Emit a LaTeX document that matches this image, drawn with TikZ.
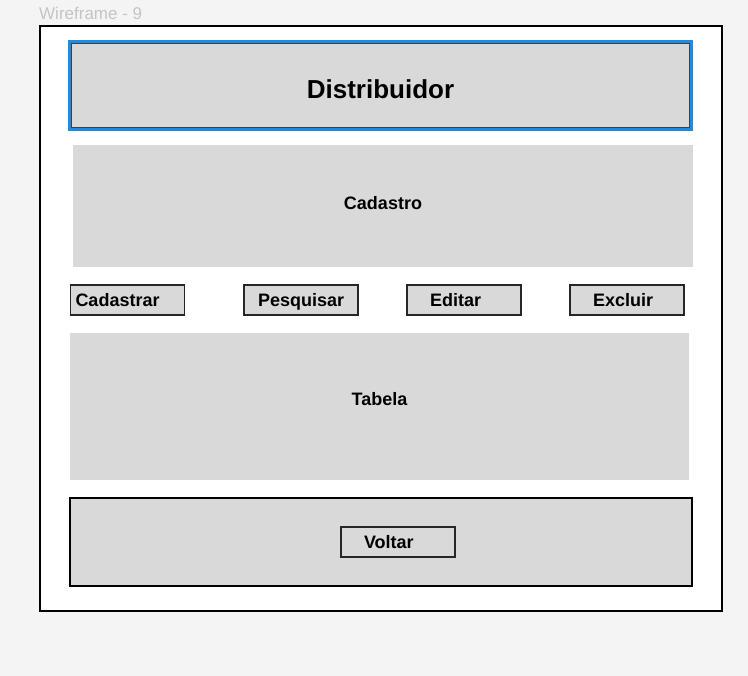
\documentclass[tikz,border=0pt]{standalone}
\usepackage{fontspec}
\setmainfont{Liberation Sans}
\definecolor{pagebg}{HTML}{F4F4F4}
\definecolor{boxgray}{HTML}{D9D9D9}
\definecolor{selblue}{HTML}{1A8CE8}
\definecolor{titlegray}{HTML}{C4C4C4}
\tikzset{
  panel/.style={fill=boxgray, inner sep=0pt, text height=13pt, text depth=0pt, font=\bfseries\fontsize{18}{21}\selectfont},
  btn/.style={panel, draw=black!85, line width=1.3pt, align=left, minimum width=114, minimum height=30},
}
\begin{document}
\begin{tikzpicture}[x=1pt,y=-1pt]
\useasboundingbox[fill=pagebg] (0,0) rectangle (748,676);
\node[anchor=west, text=titlegray, inner sep=0pt, font=\fontsize{17}{20}\selectfont] (title) at (39,13) {Wireframe - 9};
\node[draw=black, line width=2pt, fill=white, minimum width=682, minimum height=585] (wire) at (381,318.5) {};
\node[panel, draw=selblue, line width=4.5pt, minimum width=621, minimum height=87, text height=25.6pt, font=\bfseries\fontsize{26}{30}\selectfont] (head) at (380.5,85.5) {Distribuidor};
\draw[black!75, line width=1pt] ([shift={(3.4,3.4)}]head.north west) rectangle ([shift={(-3.4,-3.4)}]head.south east);
\node[panel, minimum width=620, minimum height=122, text depth=6pt] (form) at (383,206) {Cadastro};
\node[btn, inner xsep=5pt, text width=104] (cad) at (127.5,300) {Cadastrar};
\node[btn, inner xsep=14pt, text width=86] (pesq) at (301,300) {Pesquisar};
\node[btn, inner xsep=23pt, text width=68] (edit) at (464,300) {Editar};
\node[btn, inner xsep=23pt, text width=68] (excl) at (627,300) {Excluir};
\node[panel, minimum width=619, minimum height=147, text depth=14pt] (table) at (379.5,406.5) {Tabela};
\node[panel, draw=black, line width=2pt, minimum width=622, minimum height=88] (foot) at (381,542) {};
\node[btn, inner xsep=23pt, text width=68] (back) at (398,542) {Voltar};
\end{tikzpicture}
\end{document}
